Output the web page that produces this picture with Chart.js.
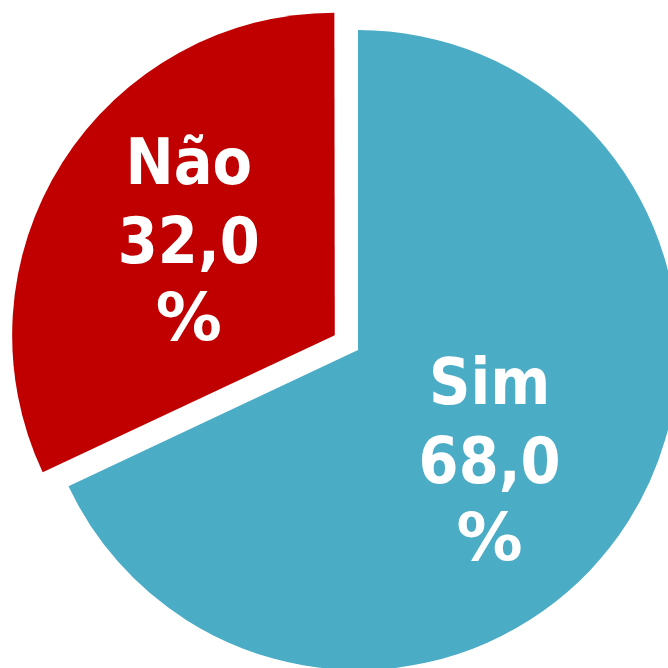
<!DOCTYPE html>
<html>
<head>
<meta charset="utf-8">
<script src="https://cdn.jsdelivr.net/npm/chart.js@4"></script>
<style>
  html, body { margin: 0; padding: 0; background: #fff; overflow: hidden; }
  #wrap { width: 668px; height: 668px; }
</style>
</head>
<body>
<div id="wrap"><canvas id="chart" width="668" height="668"></canvas></div>
<script>
const categories = ['Sim', 'Não'];
const shares = [68.0, 32.0];
const sliceColors = ['#4BACC6', '#C00000'];
const sliceOffsets = [0, 110];

// label placement inside each slice (fraction of radius, angle nudge in degrees)
const labelRadius = 0.537;
const labelAngleShift = [7.6, 0.8];

const sliceLabels = {
  id: 'sliceLabels',
  afterDatasetsDraw(chart) {
    const ctx = chart.ctx;
    const arcs = chart.getDatasetMeta(0).data;
    const hasStretch = 'fontStretch' in ctx;
    ctx.save();
    ctx.fillStyle = '#fff';
    ctx.textAlign = 'center';
    ctx.textBaseline = 'alphabetic';
    arcs.forEach((arc, i) => {
      const p = arc.getProps(['x', 'y', 'startAngle', 'endAngle', 'outerRadius'], true);
      const circ = p.endAngle - p.startAngle;
      const half = (p.startAngle + p.endAngle) / 2;
      // same shift chart.js applies to an offset arc
      const off = (sliceOffsets[i] || 0) / 4;
      const push = off + off * (1 - Math.sin(Math.min(Math.PI, circ)));
      const cx = p.x + Math.cos(half) * push;
      const cy = p.y + Math.sin(half) * push;
      const a = half + labelAngleShift[i] * Math.PI / 180;
      const r = p.outerRadius * labelRadius;
      const x = cx + Math.cos(a) * r;
      const y = cy + Math.sin(a) * r + 23;
      ctx.font = 'bold 64px "DejaVu Sans Condensed", "DejaVu Sans", sans-serif';
      if (hasStretch) ctx.fontStretch = 'condensed';
      ctx.fillText(categories[i], x, y - 79);
      ctx.fillText(shares[i].toFixed(1).replace('.', ','), x, y);
      ctx.font = 'bold 66px "DejaVu Sans", sans-serif';
      if (hasStretch) ctx.fontStretch = 'normal';
      ctx.fillText('%', x, y + 77);
    });
    ctx.restore();
  }
};

new Chart(document.getElementById('chart').getContext('2d'), {
  type: 'pie',
  data: {
    labels: categories,
    datasets: [{
      data: shares,
      backgroundColor: sliceColors,
      offset: sliceOffsets,
      borderWidth: 0,
      clip: false
    }]
  },
  options: {
    responsive: false,
    animation: false,
    events: [],
    radius: 320,
    layout: { padding: { left: 48, top: 32, right: 0, bottom: 0 } },
    plugins: {
      legend: { display: false },
      tooltip: { enabled: false }
    }
  },
  plugins: [sliceLabels]
});
</script>
</body>
</html>
